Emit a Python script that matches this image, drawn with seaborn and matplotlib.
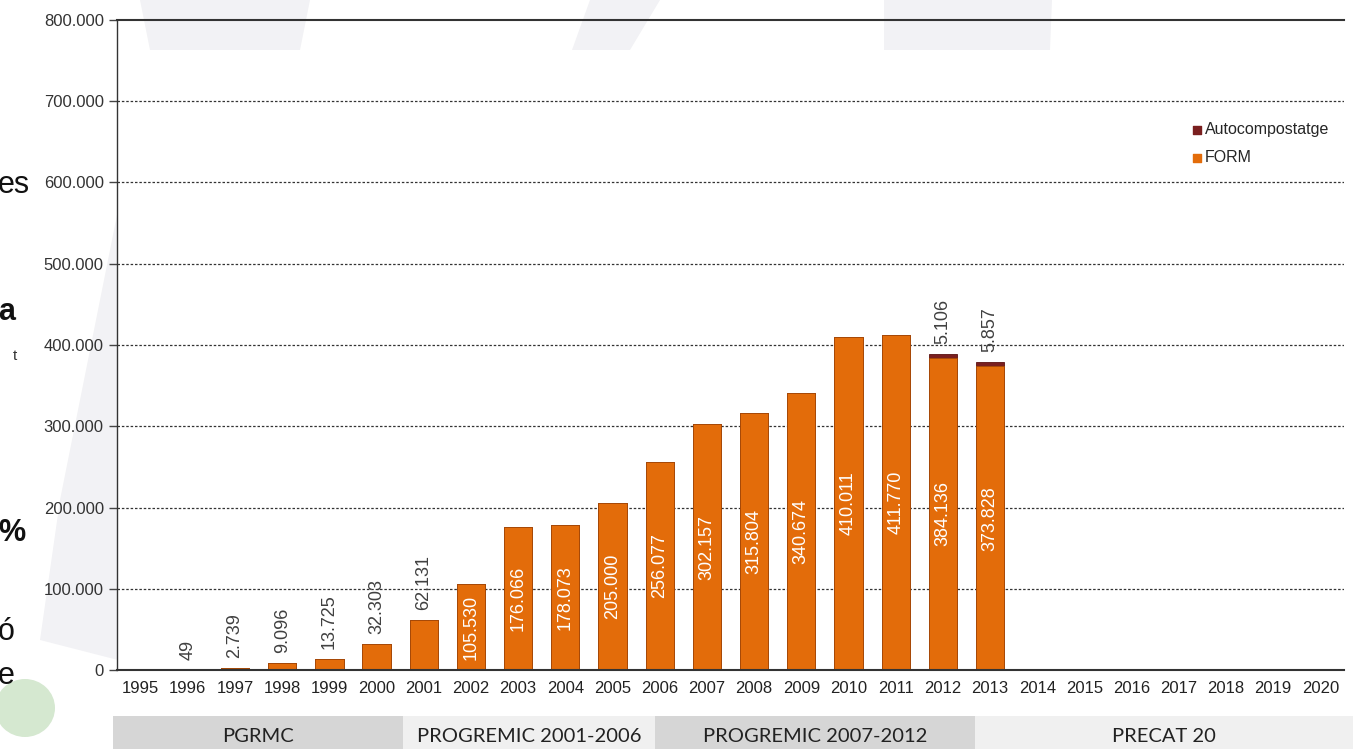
import numpy as np
import pandas as pd
import matplotlib
matplotlib.use("Agg")
import matplotlib.pyplot as plt
from matplotlib.patches import Rectangle, Polygon, Ellipse
import seaborn as sns

years = [str(y) for y in range(1995, 2021)]
form = [1500, 49, 2739, 9096, 13725, 32303, 62131, 105530, 176066, 178073,
        205000, 256077, 302157, 315804, 340674, 410011, 411770, 384136, 373828,
        np.nan, np.nan, np.nan, np.nan, np.nan, np.nan, np.nan]
auto = [np.nan] * 17 + [5106, 5857] + [np.nan] * 7
show_form_label = [False] + [True] * 18 + [False] * 7
plans = ["PGRMC", "PROGREMIC 2001-2006", "PROGREMIC 2007-2012", "PRECAT 20"]
plan_px = [(113, 403), (403, 655), (655, 975), (975, 1353)]
plan_colors = ["#d6d6d6", "#f0f0f0", "#d6d6d6", "#f0f0f0"]
yticks = [0, 100000, 200000, 300000, 400000, 500000, 600000, 700000, 800000]

def fmt(v):
    return f"{int(v):,}".replace(",", ".")

sns.set_theme(style="white")
plt.rcParams["font.family"] = ["Liberation Sans", "DejaVu Sans"]

W, H = 1353, 749
fig = plt.figure(figsize=(W / 100, H / 100), dpi=100)
fig.patch.set_facecolor("white")

# faint background watermark shapes
for pts in [[(140, 0), (310, 0), (300, 50), (150, 50)],
            [(590, 0), (660, 0), (630, 50), (572, 50)],
            [(884, 0), (1052, 0), (1050, 50), (884, 50)],
            [(118, 210), (118, 660), (40, 640), (60, 500)]]:
    fig.patches.append(Polygon([(x / W, 1 - y / H) for x, y in pts], closed=True,
                               transform=fig.transFigure, facecolor="#f2f2f5",
                               edgecolor="none", zorder=-2))
fig.patches.append(Ellipse((25 / W, 1 - 708 / H), 60 / W, 58 / H, transform=fig.transFigure,
                           facecolor="#d5e8d0", edgecolor="none", zorder=-2))

ax = fig.add_axes([117 / W, 1 - 670 / H, (1344 - 117) / W, (670 - 20) / H])
ax.set_facecolor("none")
ax.set_zorder(1)

df = pd.DataFrame({"year": years, "form": form, "auto": auto})
df["total"] = df["form"] + df["auto"].fillna(0)

sns.barplot(data=df, x="year", y="total", order=years, color="#7a1f1f",
            width=0.6, edgecolor="#5a1010", linewidth=0.6, ax=ax, saturation=1, errorbar=None)
sns.barplot(data=df, x="year", y="form", order=years, color="#e36c0a",
            width=0.6, edgecolor="#a84a05", linewidth=0.6, ax=ax, saturation=1, errorbar=None)

ax.set_ylim(0, 800000)
ax.set_xlim(-0.5, len(years) - 0.5)
ax.set_yticks(yticks)
ax.set_yticklabels([fmt(v) for v in yticks], fontsize=12, color="#333333")
ax.set_xticks(range(len(years)))
ax.set_xticklabels(years, fontsize=12, color="#222222")
ax.tick_params(axis="x", which="major", length=0, pad=8)
ax.set_xticks(np.arange(-0.5, len(years), 1), minor=True)
ax.tick_params(axis="x", which="minor", length=6, width=1.2, color="#222222", direction="out")
ax.tick_params(axis="y", which="major", length=6, width=1, color="#444444", direction="out", left=True)
ax.set_xlabel("")
ax.set_ylabel("")
for y in yticks[1:-1]:
    ax.axhline(y, color="#333333", lw=0.9, ls=(0, (2, 1.5)), zorder=0.5)
for s in ["left", "bottom", "top"]:
    ax.spines[s].set_visible(True)
    ax.spines[s].set_color("#333333")
ax.spines["top"].set_linewidth(1.5)
ax.spines["bottom"].set_linewidth(1.5)
ax.spines["left"].set_linewidth(1)
ax.spines["right"].set_visible(False)

# data labels
for i, (v, show) in enumerate(zip(form, show_form_label)):
    if not show or pd.isna(v):
        continue
    if v > 90000:
        ax.text(i, v / 2, fmt(v), rotation=90, ha="center", va="center",
                color="white", fontsize=13)
    else:
        ax.annotate(fmt(v), (i, v), xytext=(0, 7), textcoords="offset points",
                    rotation=90, ha="center", va="bottom", color="#404040", fontsize=13)
for i, a in enumerate(auto):
    if pd.isna(a):
        continue
    ax.annotate(fmt(a), (i, df["total"][i]), xytext=(0, 7), textcoords="offset points",
                rotation=90, ha="center", va="bottom", color="#404040", fontsize=13)

# legend
ax.scatter([], [], marker="s", s=40, color="#7a1f1f", label="Autocompostatge")
ax.scatter([], [], marker="s", s=40, color="#e36c0a", label="FORM")
leg = ax.legend(loc="upper right", bbox_to_anchor=(1.0, 0.865), frameon=False,
                fontsize=11.5, handletextpad=0.0, labelspacing=0.8, handlelength=1.0)

# plan bands
for (x0, x1), name, c in zip(plan_px, plans, plan_colors):
    fig.patches.append(Rectangle((x0 / W, 0), (x1 - x0) / W, 33 / H, transform=fig.transFigure,
                                 facecolor=c, edgecolor="none", zorder=-1))
    fig.text((x0 + x1) / 2 / W, 1 - 737 / H, name, ha="center", va="center",
             fontsize=14.5, color="#222222", family=["Lato", "DejaVu Sans"], zorder=2)

# cut-off slide text on the left
for txt, y, fs, wt in [("es", 185, 22, "normal"), ("a", 312, 22, "bold"), ("%", 533, 22, "bold"),
                       ("ó", 632, 22, "normal"), ("e", 676, 22, "normal")]:
    fig.text(-2 / W, 1 - y / H, txt, ha="left", va="center", fontsize=fs,
             fontweight=wt, color="#111111")
fig.text(13 / W, 1 - 356 / H, "t", ha="left", va="center", fontsize=11, color="#333333")

fig.savefig("out.png", dpi=100)
